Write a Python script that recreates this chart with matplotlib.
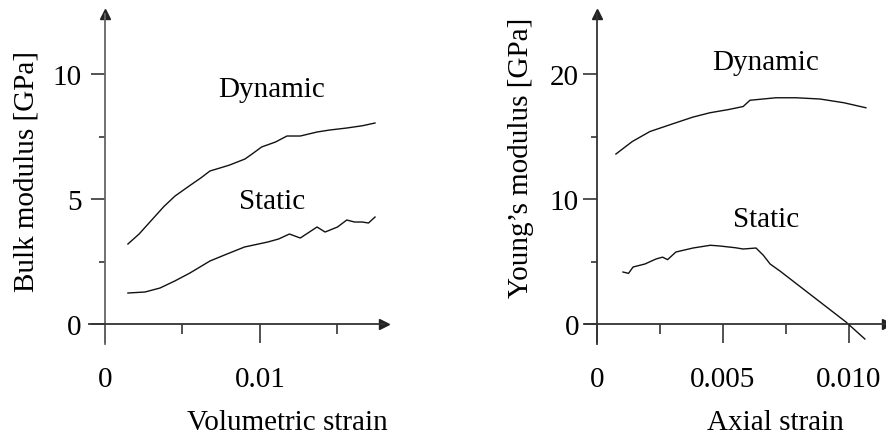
import matplotlib.pyplot as plt
from matplotlib.ticker import FixedLocator

# Left panel: bulk modulus vs volumetric strain
bulk_dyn_x = [0.00148, 0.0022, 0.0030, 0.0038, 0.00452, 0.0055, 0.0062, 0.00677, 0.0080, 0.00903,
              0.0096, 0.0101, 0.0110, 0.01174, 0.0126, 0.01368, 0.0145, 0.0156, 0.0166, 0.01742]
bulk_dyn_y = [3.2, 3.6, 4.15, 4.7, 5.12, 5.55, 5.85, 6.12, 6.35, 6.6,
              6.85, 7.08, 7.28, 7.52, 7.52, 7.68, 7.76, 7.84, 7.93, 8.04]
bulk_sta_x = [0.00148, 0.00258, 0.00355, 0.0045, 0.00548, 0.00677, 0.00787, 0.0090, 0.0105,
              0.0112, 0.0119, 0.0126, 0.01368, 0.0142, 0.0150, 0.0156, 0.0161, 0.0166, 0.0170, 0.01742]
bulk_sta_y = [1.24, 1.28, 1.44, 1.72, 2.04, 2.52, 2.8, 3.08, 3.28,
              3.4, 3.6, 3.44, 3.88, 3.68, 3.88, 4.16, 4.08, 4.08, 4.04, 4.28]

# Right panel: Young's modulus vs axial strain
young_dyn_x = [0.00075, 0.0014, 0.0021, 0.00313, 0.0038, 0.00448, 0.0052, 0.0058, 0.00607, 0.0071,
               0.0079, 0.00885, 0.0098, 0.01067]
young_dyn_y = [13.6, 14.6, 15.4, 16.1, 16.55, 16.9, 17.15, 17.4, 17.9, 18.1,
               18.1, 18.0, 17.7, 17.3]
young_sta_x = [0.00103, 0.00125, 0.00143, 0.0019, 0.00234, 0.0026, 0.0028, 0.00313, 0.00381,
               0.0045, 0.00488, 0.0055, 0.0058, 0.00631, 0.0066, 0.00687, 0.00726, 0.00988, 0.01063]
young_sta_y = [4.16, 4.05, 4.56, 4.8, 5.2, 5.35, 5.15, 5.76, 6.08,
               6.3, 6.24, 6.1, 6.0, 6.08, 5.5, 4.8, 4.24, 0.16, -1.2]

plt.rcParams['font.family'] = ['Liberation Serif', 'DejaVu Serif']
plt.rcParams['font.size'] = 21

fig = plt.figure(figsize=(8.86, 4.39), dpi=100)
ax1 = fig.add_axes([0.101, 0.2141, 0.3324, 0.7517])
ax2 = fig.add_axes([0.6603, 0.2141, 0.3406, 0.7517])


def style_axis(ax, xlim, ylim, xmaj, xmin, ymaj, ymin, xlabels, ylabels, ypad, spine_color):
    ax.set_xlim(*xlim)
    ax.set_ylim(*ylim)
    for s in ['top', 'right']:
        ax.spines[s].set_visible(False)
    ax.spines['left'].set_position(('data', 0))
    ax.spines['bottom'].set_position(('data', 0))
    for s in ['left', 'bottom']:
        ax.spines[s].set_linewidth(1.3)
    ax.spines['left'].set_color(spine_color)
    ax.spines['bottom'].set_color('#333333')
    ax.xaxis.set_major_locator(FixedLocator(xmaj))
    ax.xaxis.set_minor_locator(FixedLocator(xmin))
    ax.yaxis.set_major_locator(FixedLocator(ymaj))
    ax.yaxis.set_minor_locator(FixedLocator(ymin))
    ax.set_xticklabels(xlabels)
    ax.set_yticklabels(ylabels)
    ax.tick_params(axis='x', which='major', length=14, width=1.3, color='#444444', pad=16)
    ax.tick_params(axis='x', which='minor', length=7, width=1.3, color='#444444')
    ax.tick_params(axis='y', which='major', length=10, width=1.3, color='#444444', pad=ypad)
    ax.tick_params(axis='y', which='minor', length=4, width=1.3, color='#444444')
    ax.plot(1, 0, '>', color='#222222', ms=7, transform=ax.get_yaxis_transform(), clip_on=False)
    ax.plot(0, 1, '^', color='#222222', ms=7, transform=ax.get_xaxis_transform(), clip_on=False)


style_axis(ax1, (-0.001, 0.0180), (-0.8, 12.4), [0, 0.01], [0.005, 0.015],
           [0, 5, 10], [2.5, 7.5], ['0', '0.01'], ['0', '5', '10'], 7, '#666666')
style_axis(ax2, (-0.000476, 0.0115), (-1.6, 24.8), [0, 0.005, 0.010], [0.0025, 0.0075],
           [0, 10, 20], [5, 15], ['0', '0.005', '0.010'], ['0', '10', '20'], 3, '#333333')

ax1.plot(bulk_dyn_x, bulk_dyn_y, color='#111111', lw=1.0)
ax1.plot(bulk_sta_x, bulk_sta_y, color='#111111', lw=1.0)
ax1.text(0.01077, 9.4, 'Dynamic', ha='center', va='center')
ax1.text(0.01077, 4.92, 'Static', ha='center', va='center')

ax2.plot(young_dyn_x, young_dyn_y, color='#111111', lw=1.0)
ax2.plot(young_sta_x, young_sta_y, color='#111111', lw=1.0)
ax2.text(0.00671, 20.96, 'Dynamic', ha='center', va='center')
ax2.text(0.00671, 8.4, 'Static', ha='center', va='center')

fig.text(27 / 886, 1 - 172 / 439, 'Bulk modulus [GPa]', rotation=90, ha='center', va='center')
fig.text(287 / 886, 1 - 423 / 439, 'Volumetric strain', ha='center', va='center')
fig.text(521 / 886, 1 - 158 / 439, "Young’s modulus [GPa]", rotation=90, ha='center', va='center')
fig.text(775 / 886, 1 - 423 / 439, 'Axial strain', ha='center', va='center')

plt.savefig('out.png', dpi=100)
